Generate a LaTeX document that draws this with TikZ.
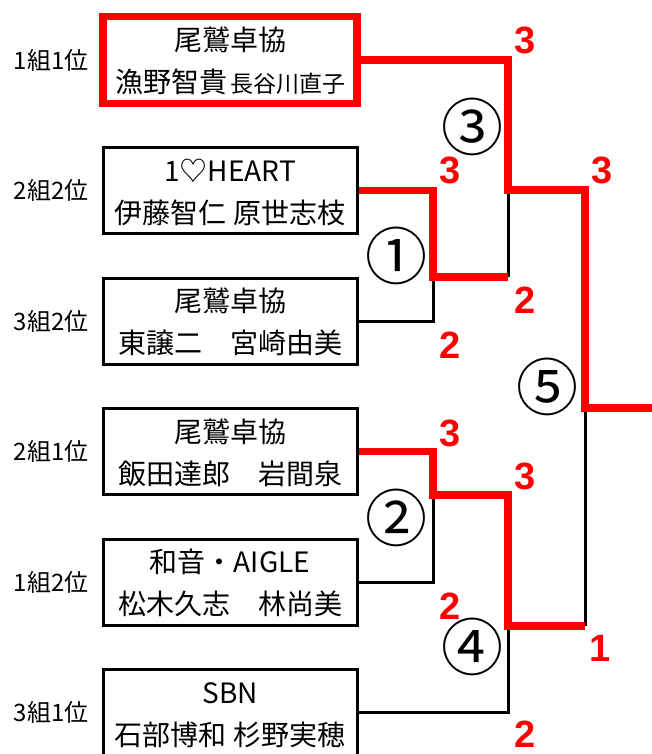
\documentclass[tikz,border=0pt]{standalone}
\usepackage{fontspec}
\setmainfont{Noto Sans CJK JP}
\newfontfamily\scorefont{Liberation Sans}
\usepackage{tikz}
\definecolor{winred}{HTML}{FF0000}

\begin{document}
\begin{tikzpicture}[
  x=1pt, y=-1pt,
  team/.style={
    rectangle,
    draw=black,
    line width=3pt,
    minimum width=254pt,
    minimum height=86pt},
  seed/.style={
    rectangle,
    draw=winred,
    line width=7.5pt,
    minimum width=254pt,
    minimum height=87pt},
  txt/.style={
    font=\fontsize{28}{28}\selectfont,
    inner sep=0pt, text height=24.6pt, text depth=3.4pt},
  rank/.style={
    font=\fontsize{24}{24}\selectfont,
    inner sep=0pt, text height=21.1pt, text depth=2.9pt},
  score/.style={
    font=\scorefont\bfseries\fontsize{38}{38}\selectfont,
    text=winred, inner sep=0pt, text height=27.2pt, text depth=0pt},
  game/.style={
    font=\fontsize{62}{62}\selectfont,
    inner sep=0pt, text height=44pt, text depth=0pt},
  lose/.style={draw=black, line width=3pt},
  win/.style={draw=winred, line width=7.5pt},
]

  \def\boxx{230}%
  \def\colA{433}%
  \def\colB{508}%
  \def\colC{585}%

  \useasboundingbox (0,0) rectangle (652,754);

    % Team boxes and group ranks
  \foreach \i/\y/\bx/\rk in {1/60/seed/1組1位, 2/190.5/team/2組2位,
      3/321/team/3組2位, 4/451.5/team/2組1位,
      5/582/team/1組2位, 6/712.5/team/3組1位} {
    \node[\bx] (b\i) at (\boxx, \y) {};
    \node[rank] (r\i) at (51, \y) {\rk};
  }

    % Team names and players
  \foreach \i/\tm/\pl in {
      1/尾鷲卓協/{漁野智貴\hspace{3pt}{\fontsize{23}{23}\selectfont 長谷川直子}},
      2/1♡HEART/{伊藤智仁 原世志枝},
      3/尾鷲卓協/{東譲二　宮崎由美},
      4/尾鷲卓協/{飯田達郎　岩間泉},
      5/和音・AIGLE/{松木久志　林尚美},
      6/SBN/{石部博和 杉野実穂}} {
    \node[txt] (t\i) at ([yshift=20pt]b\i.center) {\tm};
    \node[txt] (p\i) at ([yshift=-22pt]b\i.center) {\pl};
  }

    % Match corners
  \coordinate (o1) at (\colA, 277);
  \coordinate (o2) at (\colA, 495);
  \coordinate (o3) at (\colB, 190);
  \coordinate (o4) at (\colB, 626);
  \coordinate (o5) at (\colC, 408);
  \coordinate (champ) at (680, 408);

    % Losing sides
  \draw[lose] (b3.east) -- (b3.east -| o1) -- (o1);
  \draw[lose] (b5.east) -- (b5.east -| o2) -- (o2);
  \draw[lose] (o3) -- (o3 |- o1);
  \draw[lose] (b6.east) -- (b6.east -| o4) -- (o4);
  \draw[lose] (o5) -- (o5 |- o4);

    % Winning sides
  \draw[win] (b2.east) -- (b2.east -| o1) -- (o1) -- (o1 -| o3);
  \draw[win] (b4.east) -- (b4.east -| o2) -- (o2) -- (o2 -| o4)
      -- (o4) -- (o4 -| o5);
  \draw[win] (b1.east) -- (b1.east -| o3) -- (o3) -- (o3 -| o5)
      -- (o5) -- (champ);

    % Match numbers
  \node[game] (g1) at (396, 257.6) {①};
  \node[game] (g2) at (396, 519.6) {②};
  \node[game] (g3) at (472, 128.6) {③};
  \node[game] (g4) at (472, 648.6) {④};
  \node[game] (g5) at (547, 388.6) {⑤};

    % Scores
  \foreach \i/\x/\y/\pt in {1/525/40/3, 2/450/170/3, 3/602/170/3,
      4/525/300/2, 5/450/345/2, 6/450/433/3, 7/525/476/3,
      8/450/606/2, 9/600/648/1, 10/525/734/2} {
    \node[score] (s\i) at (\x, \y) {\pt};
  }

\end{tikzpicture}
\end{document}
